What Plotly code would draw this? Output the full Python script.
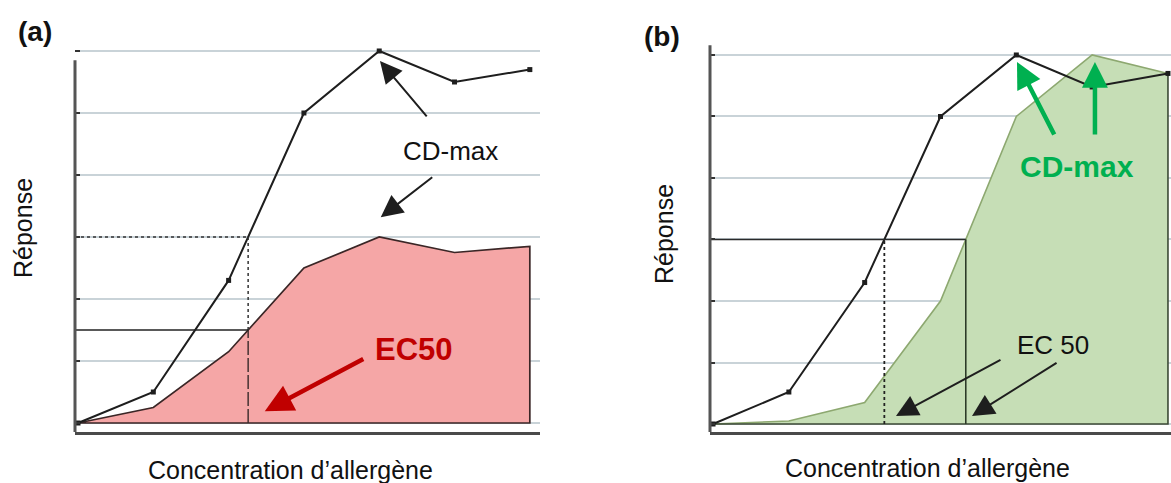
import numpy as np
import plotly.graph_objects as go

# Concentration steps (arbitrary, no tick labels shown)
conc = [0, 1, 2, 3, 4, 5, 6]

# (a) reference curve and lower-response curve (same EC50, lower CD-max)
rep_a_ref = [0.0, 0.5, 2.3, 5.0, 6.0, 5.5, 5.7]
rep_a_low = [0.0, 0.25, 1.15, 2.5, 3.0, 2.75, 2.85]

# (b) reference curve and shifted curve (same CD-max, higher EC50)
rep_b_ref = [0.0, 0.52, 2.3, 5.0, 6.0, 5.48, 5.7]
rep_b_shift = [0.0, 0.05, 0.35, 2.0, 5.0, 6.0, 5.7]

grid_levels = [0, 1, 2, 3, 4, 5, 6]

FONT = "Liberation Sans, Arial, sans-serif"
W, H = 1171, 483
RED_FILL = "#F5A6A6"
GREEN_FILL = "#C6DEB6"
GREEN_EDGE = "#8DA870"
DARK = "#1e1e1e"
GRID = "#C9D3D8"


def ec50(values):
    """Concentration at half of the curve's maximum, on the rising part."""
    half = max(values) / 2.0
    peak = int(np.argmax(values))
    return float(np.interp(half, values[:peak + 1], conc[:peak + 1])), half


fig = go.Figure()

# ---------- panel (a) ----------
fig.add_trace(go.Scatter(
    x=conc + [conc[-1], conc[0]], y=rep_a_low + [0, 0], fill="toself",
    fillcolor=RED_FILL, line=dict(color="#3a2626", width=1.7),
    mode="lines", xaxis="x", yaxis="y", hoverinfo="skip"))
fig.add_trace(go.Scatter(
    x=conc, y=rep_a_ref, mode="lines+markers",
    line=dict(color=DARK, width=2),
    marker=dict(symbol="square", size=5, color=DARK),
    xaxis="x", yaxis="y"))

xa_ref, ha_ref = ec50(rep_a_ref)
xa_low, ha_low = ec50(rep_a_low)
xa0 = -0.04
# dotted guide at half of the reference maximum
fig.add_trace(go.Scatter(x=[xa0, xa_ref], y=[ha_ref, ha_ref], mode="lines",
                         line=dict(color="#333", width=1.5, dash="dot"),
                         xaxis="x", yaxis="y", hoverinfo="skip"))
fig.add_trace(go.Scatter(x=[xa_ref, xa_ref], y=[ha_low, ha_ref], mode="lines",
                         line=dict(color="#333", width=1.5, dash="dot"),
                         xaxis="x", yaxis="y", hoverinfo="skip"))
fig.add_trace(go.Scatter(x=[xa_low, xa_low], y=[0, ha_low], mode="lines",
                         line=dict(color="#3a2a2a", width=1.4,
                                   dash="14px,3px"),
                         xaxis="x", yaxis="y", hoverinfo="skip"))
# solid guide at half of the lower curve's maximum
fig.add_trace(go.Scatter(x=[xa0, xa_low], y=[ha_low, ha_low], mode="lines",
                         line=dict(color="#222", width=1.5),
                         xaxis="x", yaxis="y", hoverinfo="skip"))

# ---------- panel (b) ----------
fig.add_trace(go.Scatter(
    x=conc + [conc[-1], conc[0]], y=rep_b_shift + [0, 0], fill="toself",
    fillcolor=GREEN_FILL, line=dict(width=0),
    mode="lines", xaxis="x2", yaxis="y2", hoverinfo="skip"))
fig.add_trace(go.Scatter(x=conc, y=rep_b_shift, mode="lines",
                         line=dict(color=GREEN_EDGE, width=1.6),
                         xaxis="x2", yaxis="y2", hoverinfo="skip"))
fig.add_trace(go.Scatter(x=[conc[0], conc[-1], conc[-1]],
                         y=[0, 0, rep_b_shift[-1]], mode="lines",
                         line=dict(color="#3c4a36", width=1.6),
                         xaxis="x2", yaxis="y2", hoverinfo="skip"))
fig.add_trace(go.Scatter(
    x=conc, y=rep_b_ref, mode="lines+markers",
    line=dict(color=DARK, width=2),
    marker=dict(symbol="square", size=5, color=DARK),
    xaxis="x2", yaxis="y2"))

xb_ref, hb_ref = ec50(rep_b_ref)
xb_shift, hb_shift = ec50(rep_b_shift)
xb0 = -0.04
fig.add_trace(go.Scatter(x=[xb0, xb_shift], y=[hb_ref, hb_ref], mode="lines",
                         line=dict(color="#2a2a2a", width=1.6),
                         xaxis="x2", yaxis="y2", hoverinfo="skip"))
fig.add_trace(go.Scatter(x=[xb_ref, xb_ref], y=[0, hb_ref], mode="lines",
                         line=dict(color="#222", width=1.8, dash="dot"),
                         xaxis="x2", yaxis="y2", hoverinfo="skip"))
fig.add_trace(go.Scatter(x=[xb_shift, xb_shift], y=[0, hb_shift], mode="lines",
                         line=dict(color="#2c3a28", width=1.6),
                         xaxis="x2", yaxis="y2", hoverinfo="skip"))

# ---------- axes ----------
ydom = [1 - 432 / H, 1 - 42 / H]
common_y = dict(showgrid=True, gridcolor=GRID, gridwidth=2, zeroline=False,
                showline=False, showticklabels=False, ticks="inside",
                ticklen=5, tickwidth=2, tickcolor="#333")
common_x = dict(showgrid=False, zeroline=False, showline=True, linewidth=3,
                linecolor="#4a4a4a", showticklabels=False, ticks="")

fig.update_layout(
    width=W, height=H, margin=dict(l=0, r=0, t=0, b=0),
    paper_bgcolor="white", plot_bgcolor="white", showlegend=False,
    xaxis=dict(domain=[75 / W, 540 / W], range=[xa0, 6.135], **common_x),
    yaxis=dict(domain=ydom, range=[-0.145, 6.145], tickvals=grid_levels,
               **common_y),
    xaxis2=dict(domain=[710 / W, 1.0], range=[xb0, 6.04], anchor="y2",
                **common_x),
    yaxis2=dict(domain=ydom, range=[-0.13, 6.211], tickvals=grid_levels,
                anchor="x2", **common_y),
)

# left axis lines
fig.add_shape(type="line", xref="x domain", yref="y", x0=0, x1=0,
              y0=-0.145, y1=5.85, line=dict(color="#555", width=3))
fig.add_shape(type="line", xref="x2 domain", yref="y2", x0=0, x1=0,
              y0=-0.13, y1=6.16, line=dict(color="#555", width=3))


def px_text(text, x, y, size, color="#111", bold=False, angle=0):
    fig.add_annotation(
        text=f"<b>{text}</b>" if bold else text, xref="paper", yref="paper",
        x=x / W, y=1 - y / H, xanchor="center", yanchor="middle",
        showarrow=False, textangle=angle,
        font=dict(family=FONT, size=size, color=color))


def arrow(xref, yref, x, y, ax, ay, color, width, size):
    fig.add_annotation(text="", xref=xref, yref=yref, x=x, y=y, ax=ax, ay=ay,
                       showarrow=True, arrowhead=2, arrowsize=size,
                       arrowwidth=width, arrowcolor=color)


# panel labels and titles
px_text("(a)", 35, 32, 28, "#111", bold=True)
px_text("(b)", 662, 36, 28, "#111", bold=True)
px_text("Réponse", 23, 228, 25, angle=-90)
px_text("Réponse", 664, 234, 25, angle=-90)
px_text("Concentration d’allergène", 290, 470, 25)
px_text("Concentration d’allergène", 927, 468, 25)

# panel (a) callouts
px_text("CD-max", 450, 151, 26)
arrow("x", "y", 4.01, 5.84, 48, 57, DARK, 2, 2.2)
arrow("x", "y", 4.02, 3.32, 53, -41, DARK, 2, 2.2)
px_text("EC50", 414, 349, 31, "#C00000", bold=True)
arrow("x", "y", 2.48, 0.19, 100, -53, "#C00000", 4.5, 1.25)

# panel (b) callouts
px_text("EC 50", 1053, 345, 26)
arrow("x2", "y2", 2.413, 0.13, 106, -57, DARK, 2, 2.2)
arrow("x2", "y2", 3.416, 0.13, 86, -54, DARK, 2, 2.2)
px_text("CD-max", 1077, 166, 30, "#00B050", bold=True)
arrow("x2", "y2", 4.009, 5.886, 38, 74, "#00B050", 4.5, 1.15)
arrow("x2", "y2", 5.037, 5.886, 0, 74, "#00B050", 4.5, 1.15)

fig.write_html("out.html")
